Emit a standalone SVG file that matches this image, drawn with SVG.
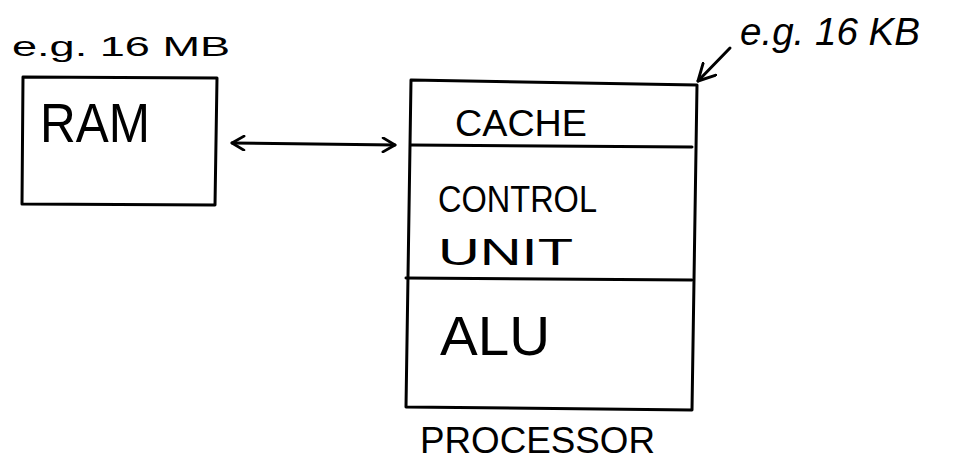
<svg xmlns="http://www.w3.org/2000/svg" width="978" height="463" viewBox="0 0 978 463">
  <style>
    .box { fill: none; stroke: #000; stroke-width: 3; stroke-linejoin: round; stroke-linecap: round; }
    .rule { fill: none; stroke: #000; stroke-width: 3; stroke-linecap: round; }
    .wire { fill: none; stroke: #000; stroke-width: 3; stroke-linecap: round; }
    text { font-family: "Liberation Sans", "DejaVu Sans", sans-serif; fill: #000; }
    .note { font-size: 28px; }
    .big { font-size: 56px; }
    .mid { font-size: 36px; }
  </style>
  <defs>
    <marker id="chevron" viewBox="0 0 16 16" refX="14" refY="8" markerWidth="16" markerHeight="16" markerUnits="userSpaceOnUse" orient="auto-start-reverse">
      <polyline points="2,1 14,8 2,15" fill="none" stroke="#000" stroke-width="2.8" stroke-linecap="round" stroke-linejoin="round"/>
    </marker>
    <marker id="pointer" viewBox="0 0 18 18" refX="16" refY="9" markerWidth="20" markerHeight="20" markerUnits="userSpaceOnUse" orient="auto">
      <polyline points="1,1 16,9 1,17" fill="none" stroke="#000" stroke-width="2.6" stroke-linecap="round" stroke-linejoin="round"/>
    </marker>
  </defs>

  <!-- main memory -->
  <g id="ram">
    <text class="note" x="12" y="56" textLength="218" lengthAdjust="spacingAndGlyphs">e.g. 16 MB</text>
    <path class="box" d="M23,77 L217,78 L215,205 L22,204 Z"/>
    <text class="big" x="40" y="142" textLength="110" lengthAdjust="spacingAndGlyphs">RAM</text>
  </g>

  <!-- CPU with its three parts -->
  <g id="processor">
    <path class="box" d="M411,80 L697,85 L692,410 L406,407 Z"/>
    <g id="cache">
      <text class="mid" x="455" y="136" textLength="132" lengthAdjust="spacingAndGlyphs">CACHE</text>
      <line class="rule" x1="411" y1="145" x2="692" y2="147"/>
    </g>
    <g id="control-unit">
      <text class="mid" x="438" y="212" textLength="159" lengthAdjust="spacingAndGlyphs">CONTROL</text>
      <text class="mid" x="438" y="265" textLength="135" lengthAdjust="spacingAndGlyphs">UNIT</text>
      <line class="rule" x1="406" y1="278" x2="692" y2="280"/>
    </g>
    <g id="alu">
      <text class="big" x="440" y="355" textLength="110" lengthAdjust="spacingAndGlyphs">ALU</text>
    </g>
    <text class="mid" x="420" y="453" textLength="235" lengthAdjust="spacingAndGlyphs">PROCESSOR</text>
  </g>

  <!-- cache size note -->
  <g id="cache-size">
    <text x="740" y="45" font-size="38" font-style="italic" textLength="180" lengthAdjust="spacingAndGlyphs">e.g. 16 KB</text>
  </g>

  <g id="connectors">
    <line class="wire" x1="232" y1="143" x2="395" y2="145" marker-start="url(#chevron)" marker-end="url(#chevron)"/>
    <line class="wire" x1="730" y1="48" x2="698" y2="81" marker-end="url(#pointer)"/>
  </g>
</svg>
